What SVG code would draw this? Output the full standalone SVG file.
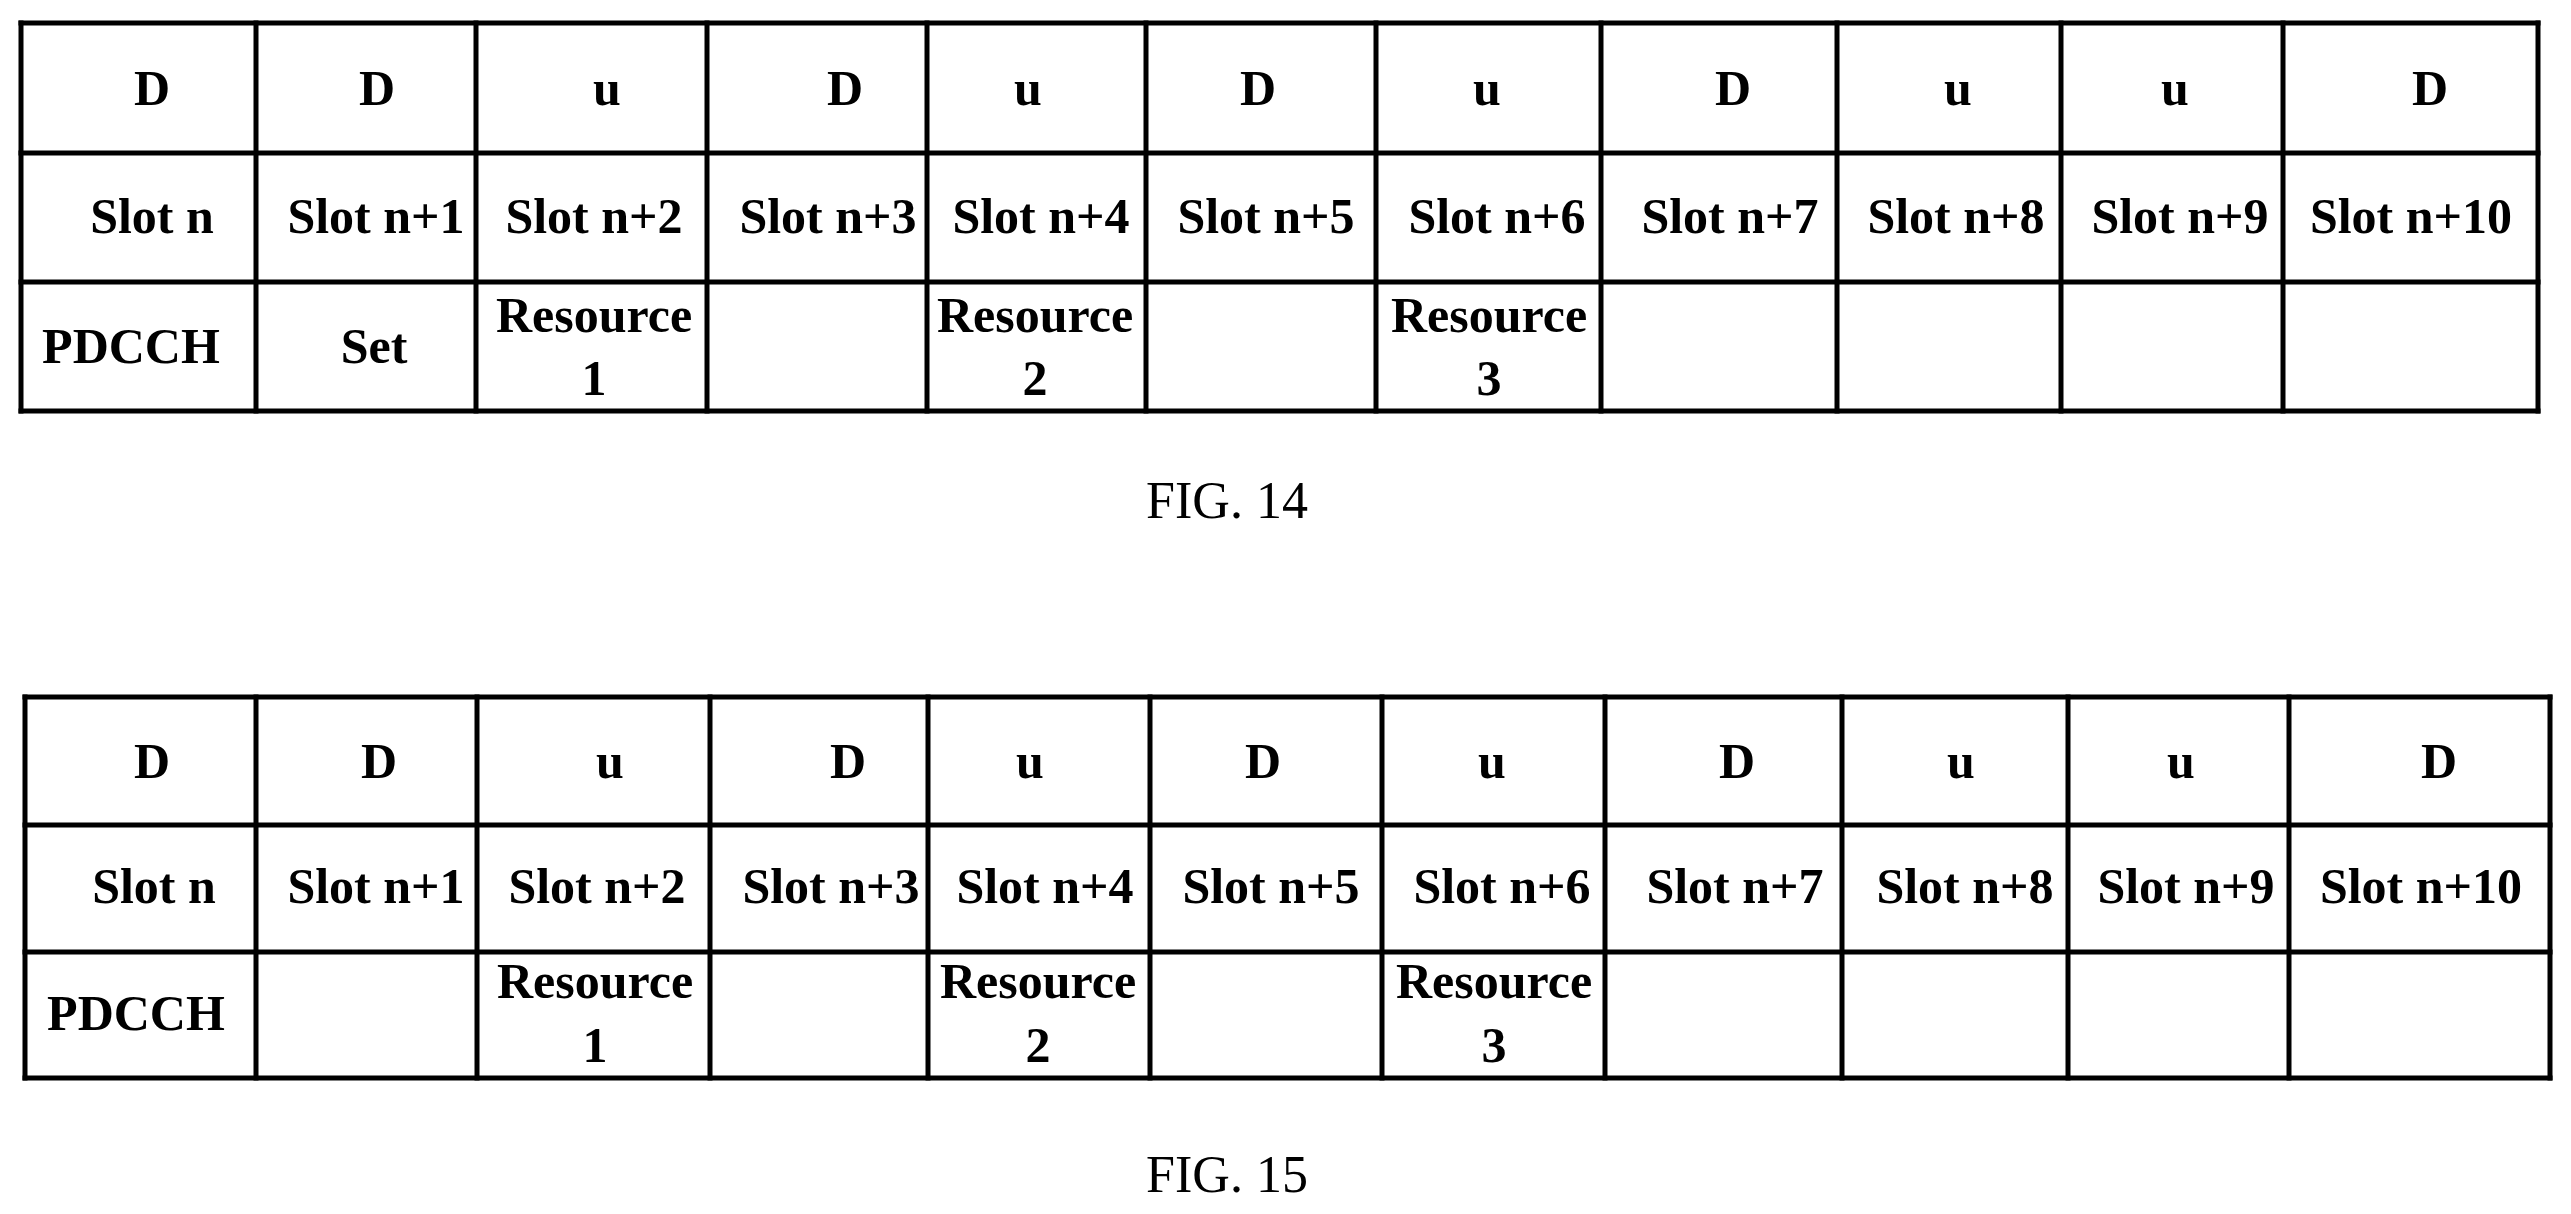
<svg xmlns="http://www.w3.org/2000/svg" width="2571" height="1214" viewBox="0 0 2571 1214">
<style>
.g line{stroke:#000;stroke-width:5;stroke-linecap:square}
.t{font-family:"Liberation Serif",serif;font-weight:bold;font-size:50px;text-anchor:middle;fill:#000}
.c{font-family:"Liberation Serif",serif;font-size:52px;text-anchor:middle;fill:#000}
</style>
<rect width="2571" height="1214" fill="#fff"/>
<g id="fig14" class="g">
<line x1="21" y1="23" x2="2538" y2="23"/><line x1="21" y1="153" x2="2538" y2="153"/><line x1="21" y1="282" x2="2538" y2="282"/><line x1="21" y1="411" x2="2538" y2="411"/>
<line x1="21" y1="23" x2="21" y2="411"/><line x1="256" y1="23" x2="256" y2="411"/><line x1="476" y1="23" x2="476" y2="411"/><line x1="707" y1="23" x2="707" y2="411"/><line x1="927" y1="23" x2="927" y2="411"/><line x1="1146" y1="23" x2="1146" y2="411"/><line x1="1376" y1="23" x2="1376" y2="411"/><line x1="1601" y1="23" x2="1601" y2="411"/><line x1="1837" y1="23" x2="1837" y2="411"/><line x1="2061" y1="23" x2="2061" y2="411"/><line x1="2283" y1="23" x2="2283" y2="411"/><line x1="2538" y1="23" x2="2538" y2="411"/>
<g class="t">
<text x="152" y="105">D</text><text x="377" y="105">D</text><text x="607" y="105">u</text><text x="845" y="105">D</text><text x="1028" y="105">u</text><text x="1258" y="105">D</text><text x="1487" y="105">u</text><text x="1733" y="105">D</text><text x="1958" y="105">u</text><text x="2175" y="105">u</text><text x="2430" y="105">D</text>
<text x="152" y="233">Slot n</text><text x="376" y="233">Slot n+1</text><text x="594" y="233">Slot n+2</text><text x="828" y="233">Slot n+3</text><text x="1041" y="233">Slot n+4</text><text x="1266" y="233">Slot n+5</text><text x="1497" y="233">Slot n+6</text><text x="1730" y="233">Slot n+7</text><text x="1956" y="233">Slot n+8</text><text x="2180" y="233">Slot n+9</text><text x="2411" y="233">Slot n+10</text>
<text x="131" y="363">PDCCH</text><text x="374" y="363">Set</text>
<text x="594" y="332">Resource</text><text x="594" y="395">1</text>
<text x="1035" y="332">Resource</text><text x="1035" y="395">2</text>
<text x="1489" y="332">Resource</text><text x="1489" y="395">3</text>
</g>
<text class="c" x="1227" y="518">FIG. 14</text>
</g>
<g id="fig15" class="g">
<line x1="25" y1="697" x2="2550" y2="697"/><line x1="25" y1="825" x2="2550" y2="825"/><line x1="25" y1="952" x2="2550" y2="952"/><line x1="25" y1="1078" x2="2550" y2="1078"/>
<line x1="25" y1="697" x2="25" y2="1078"/><line x1="256" y1="697" x2="256" y2="1078"/><line x1="477" y1="697" x2="477" y2="1078"/><line x1="710" y1="697" x2="710" y2="1078"/><line x1="928" y1="697" x2="928" y2="1078"/><line x1="1150" y1="697" x2="1150" y2="1078"/><line x1="1382" y1="697" x2="1382" y2="1078"/><line x1="1605" y1="697" x2="1605" y2="1078"/><line x1="1842" y1="697" x2="1842" y2="1078"/><line x1="2068" y1="697" x2="2068" y2="1078"/><line x1="2289" y1="697" x2="2289" y2="1078"/><line x1="2550" y1="697" x2="2550" y2="1078"/>
<g class="t">
<text x="152" y="778">D</text><text x="379" y="778">D</text><text x="610" y="778">u</text><text x="848" y="778">D</text><text x="1030" y="778">u</text><text x="1263" y="778">D</text><text x="1492" y="778">u</text><text x="1737" y="778">D</text><text x="1961" y="778">u</text><text x="2181" y="778">u</text><text x="2439" y="778">D</text>
<text x="154" y="903">Slot n</text><text x="376" y="903">Slot n+1</text><text x="597" y="903">Slot n+2</text><text x="831" y="903">Slot n+3</text><text x="1045" y="903">Slot n+4</text><text x="1271" y="903">Slot n+5</text><text x="1502" y="903">Slot n+6</text><text x="1735" y="903">Slot n+7</text><text x="1965" y="903">Slot n+8</text><text x="2186" y="903">Slot n+9</text><text x="2421" y="903">Slot n+10</text>
<text x="136" y="1030">PDCCH</text>
<text x="595" y="998">Resource</text><text x="595" y="1062">1</text>
<text x="1038" y="998">Resource</text><text x="1038" y="1062">2</text>
<text x="1494" y="998">Resource</text><text x="1494" y="1062">3</text>
</g>
<text class="c" x="1227" y="1192">FIG. 15</text>
</g>
</svg>
